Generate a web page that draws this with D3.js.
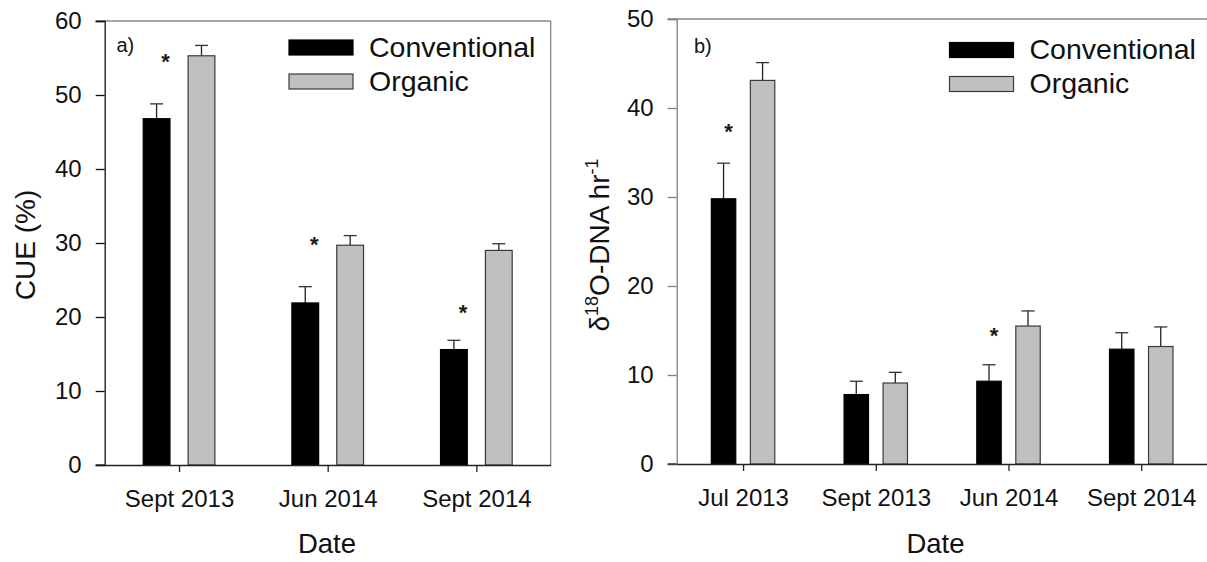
<!DOCTYPE html>
<html>
<head>
<meta charset="utf-8">
<script src="https://cdn.jsdelivr.net/npm/d3@7"></script>
<style>
  html, body { margin: 0; padding: 0; background: #fff; }
  svg { display: block; font-family: Arial, "Liberation Sans", sans-serif; }
</style>
</head>
<body>
<svg id="chart" width="1207" height="562"></svg>
<script>
// Panel a) carbon use efficiency
const cueDates = ["Sept 2013", "Jun 2014", "Sept 2014"];
const cueConv = [46.8, 21.9, 15.6];
const cueConvErr = [2.0, 2.2, 1.25];
const cueOrg = [55.3, 29.7, 29.0];
const cueOrgErr = [1.4, 1.3, 0.9];
const cueTicks = [0, 10, 20, 30, 40, 50, 60];
// significance markers: date index and height (data units)
const cueSig = [[0, 55.3], [1, 30.6], [2, 21.4]];

// Panel b) 18O incorporation into DNA
const dnaDates = ["Jul 2013", "Sept 2013", "Jun 2014", "Sept 2014"];
const dnaConv = [29.8, 7.8, 9.3, 12.9];
const dnaConvErr = [4.0, 1.5, 1.85, 1.85];
const dnaOrg = [43.1, 9.1, 15.5, 13.2];
const dnaOrgErr = [2.0, 1.2, 1.7, 2.2];
const dnaTicks = [0, 10, 20, 30, 40, 50];
const dnaSig = [[0, 38.0], [2, 15.1]];

const seriesNames = ["Conventional", "Organic"];
const seriesFill = ["#000000", "#c0c0c0"];
const seriesStroke = ["#000000", "#3a3a3a"];

const svg = d3.select("#chart");

function panel(cfg) {
  const g = svg.append("g");
  const n = cfg.dates.length;
  const x = d3.scaleLinear().domain([0.5, n + 0.5]).range(cfg.xRange);
  const y = d3.scaleLinear().domain([0, cfg.yMax]).range(cfg.yRange);
  const [x0, x1] = cfg.xRange;
  const [yb, yt] = cfg.yRange;
  const bw = x(0.5 + cfg.barW) - x(0.5);

  // frame: top line and right edge
  g.append("line").attr("x1", x0 - 9).attr("x2", x1).attr("y1", yt).attr("y2", yt)
    .attr("stroke", "#8a8a8a").attr("stroke-width", 1.3);
  g.append("line").attr("x1", x1).attr("x2", x1).attr("y1", yt).attr("y2", yb)
    .attr("stroke", "#8a8a8a").attr("stroke-width", 1.3);

  // bars and upper error bars
  const series = [
    { v: cfg.conv, e: cfg.convErr, off: -cfg.off, i: 0 },
    { v: cfg.org, e: cfg.orgErr, off: cfg.off, i: 1 }
  ];
  series.forEach(s => {
    const cx = (d, k) => x(k + 1 + s.off);
    g.selectAll(null).data(s.v).enter().append("line")
      .attr("x1", cx).attr("x2", cx)
      .attr("y1", d => y(d))
      .attr("y2", (d, k) => y(d + s.e[k]))
      .attr("stroke", "#222").attr("stroke-width", 1.3);
    g.selectAll(null).data(s.v).enter().append("line")
      .attr("x1", (d, k) => cx(d, k) - 6.5).attr("x2", (d, k) => cx(d, k) + 6.5)
      .attr("y1", (d, k) => y(d + s.e[k]))
      .attr("y2", (d, k) => y(d + s.e[k]))
      .attr("stroke", "#333").attr("stroke-width", 1.3);
    g.selectAll(null).data(s.v).enter().append("rect")
      .attr("x", (d, k) => cx(d, k) - bw / 2)
      .attr("width", bw)
      .attr("y", d => y(d))
      .attr("height", d => y(0) - y(d))
      .attr("fill", seriesFill[s.i])
      .attr("stroke", seriesStroke[s.i])
      .attr("stroke-width", 1.2);
  });

  // significance asterisks above the conventional bars
  g.selectAll(null).data(cfg.sig).enter().append("text")
    .attr("x", d => x(d[0] + 1 - cfg.off) + cfg.starDx)
    .attr("y", d => y(d[1]) + 13)
    .attr("text-anchor", "middle")
    .attr("font-size", 22)
    .attr("font-weight", "bold")
    .attr("fill", "#1a1a1a")
    .text("*");

  // y axis
  const ya = g.append("g").attr("transform", `translate(${x0},0)`)
    .call(d3.axisLeft(y).tickValues(cfg.ticks).tickSize(9).tickPadding(14).tickFormat(d3.format("d")));
  ya.select(".domain").attr("stroke", cfg.yAxisColor).attr("stroke-width", 1.3);
  ya.selectAll(".tick line").attr("stroke", cfg.yAxisColor).attr("stroke-width", 1.3);
  ya.selectAll(".tick text").attr("font-size", 24).attr("fill", "#111")
    .attr("font-family", "Arial, 'Liberation Sans', sans-serif");

  // x axis
  const xa = g.append("g").attr("transform", `translate(0,${yb})`)
    .call(d3.axisBottom(x).tickValues(d3.range(1, n + 1)).tickSize(7).tickPadding(18)
      .tickFormat(d => cfg.dates[d - 1]).tickSizeOuter(0));
  xa.select(".domain").attr("stroke", "#222").attr("stroke-width", 1.3);
  xa.selectAll(".tick line").attr("stroke", "#222").attr("stroke-width", 1.3);
  xa.selectAll(".tick text").attr("font-size", 24).attr("fill", "#111")
    .attr("font-family", "Arial, 'Liberation Sans', sans-serif");
  g.append("line").attr("x1", x0 - 9).attr("x2", x0).attr("y1", yb).attr("y2", yb)
    .attr("stroke", "#222").attr("stroke-width", 1.3);

  // panel letter
  g.append("text").attr("x", cfg.letterPos[0]).attr("y", cfg.letterPos[1])
    .attr("font-size", 20).attr("fill", "#111").text(cfg.letter);

  // legend
  seriesNames.forEach((name, i) => {
    const ly = cfg.legend[1] + i * 34;
    g.append("rect").attr("x", cfg.legend[0]).attr("y", ly)
      .attr("width", 64).attr("height", 15)
      .attr("fill", seriesFill[i]).attr("stroke", seriesStroke[i]).attr("stroke-width", 1.2);
    g.append("text").attr("x", cfg.legend[0] + 80).attr("y", ly + 16.5)
      .attr("font-size", 28.5).attr("fill", "#111").text(name);
  });

  // x title
  g.append("text").attr("x", cfg.dateX).attr("y", 553)
    .attr("text-anchor", "middle").attr("font-size", 27.5).attr("fill", "#111").text("Date");

  return { g, x, y };
}

const a = panel({
  dates: cueDates, conv: cueConv, convErr: cueConvErr, org: cueOrg, orgErr: cueOrgErr,
  ticks: cueTicks, sig: cueSig, yMax: 60,
  xRange: [104.7, 550.7], yRange: [465, 21],
  barW: 0.18, off: 0.151, starDx: 9, yAxisColor: "#111",
  letter: "a)", letterPos: [116.5, 52], legend: [289, 40], dateX: 327
});

const b = panel({
  dates: dnaDates, conv: dnaConv, convErr: dnaConvErr, org: dnaOrg, orgErr: dnaOrgErr,
  ticks: dnaTicks, sig: dnaSig, yMax: 50,
  xRange: [676.7, 1207.6], yRange: [464, 19],
  barW: 0.184, off: 0.147, starDx: 5, yAxisColor: "#808080",
  letter: "b)", letterPos: [694, 53], legend: [949.5, 42.5], dateX: 935.5
});

// y titles
svg.append("text")
  .attr("transform", "translate(35,245) rotate(-90)")
  .attr("text-anchor", "middle").attr("font-size", 28).attr("fill", "#111")
  .text("CUE (%)");

const yb = svg.append("text")
  .attr("transform", "translate(609,245) rotate(-90)")
  .attr("text-anchor", "middle").attr("font-size", 28).attr("fill", "#111");
yb.append("tspan").text("δ");
yb.append("tspan").attr("dy", -11).attr("font-size", 18).text("18");
yb.append("tspan").attr("dy", 11).text("O-DNA hr");
yb.append("tspan").attr("dy", -11).attr("font-size", 18).text("-1");
</script>
</body>
</html>
